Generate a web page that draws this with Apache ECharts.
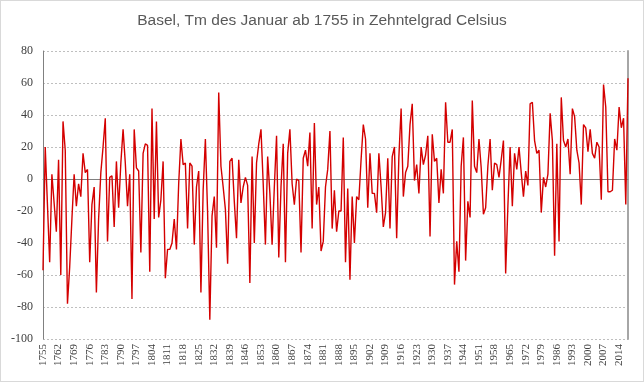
<!DOCTYPE html>
<html>
<head>
<meta charset="utf-8">
<script src="https://cdn.jsdelivr.net/npm/echarts@6/dist/echarts.min.js"></script>
<style>
html,body{margin:0;padding:0;background:#fff;}
#c{width:644px;height:382px;box-sizing:border-box;border:1px solid #d9d9d9;}
</style>
</head>
<body>
<div id="c"></div>
<script>
const title = 'Basel, Tm des Januar ab 1755 in Zehntelgrad Celsius';
const firstYear = 1755;
const lastYear = 2018;
const yTicks = {min: -100, max: 80, step: 20};
// January mean temperature, tenths of a degree Celsius, 1755..2018
const values = [
 -57, 20, -16, -52, 3, -15, -33, 12, -60, 36,
 18, -78, -55, -25, 3, -17, -3, -11, 16, 4,
 6, -52, -16, -5, -71, -25, 4, 20, 38, -39,
 1, 2, -30, 11, -18, 10, 31, 10, -17, 3,
 -75, 31, 7, 5, -46, 16, 22, 21, -58, 44,
 -25, 36, -24, -13, 11, -62, -44, -44, -40, -25,
 -44, -3, 25, 9, 10, -31, 10, 8, -41, -5,
 5, -71, -7, 25, -21, -88, -23, -11, -43, 54,
 8, -5, -19, -53, 11, 13, -14, -37, 12, -15,
 -5, 1, -4, -65, 14, -40, 10, 22, 31, -3,
 -41, 14, -9, -41, -5, 27, -49, -5, 22, -52,
 16, 31, -3, -16, 0, -1, -46, 13, 18, 8,
 29, -31, 35, -16, -5, -45, -39, -5, 6, 30,
 -31, -7, -33, -20, -20, 26, -52, -6, -63, -11,
 -40, -11, -13, 12, 34, 25, -18, 16, -9, -9,
 -21, 16, -5, -30, -21, 13, -31, 14, 20, -37,
 14, 44, -11, 4, 8, 34, 47, -1, 9, -9,
 20, 9, 15, 27, -36, 28, 11, 13, -15, 6,
 -9, 48, 23, 23, 31, -66, -39, -58, 8, 26,
 -51, -14, -24, 49, 8, 4, 25, 7, -22, -18,
 8, 25, -7, 10, 9, 1, 12, 24, -59, -17,
 20, -17, 16, 6, 20, 4, -11, 5, -4, 47,
 48, 24, 16, 18, -21, 1, -5, 3, 41, 24,
 -48, 22, -39, 51, 24, 20, 25, 3, 44, 39,
 18, 10, -16, 34, 32, 17, 31, 16, 13, 23,
 20, -13, 59, 45, -8, -8, -7, 25, 18, 45,
 32, 38, -16, 63
];
const years = [];
for (let y = firstYear; y <= lastYear; y++) years.push(String(y));

const chart = echarts.init(document.getElementById('c'), null, {renderer: 'canvas'});
chart.setOption({
  animation: false,
  backgroundColor: '#fff',
  title: {
    text: title, left: 'center', top: 7,
    textStyle: {fontFamily: 'Liberation Sans', fontSize: 15.5, fontWeight: 'normal', color: '#595959'}
  },
  grid: {left: 42, right: 15, top: 50, bottom: 42, containLabel: false},
  xAxis: [{
    type: 'category', data: years, boundaryGap: false,
    axisLine: {show: false}, axisTick: {show: false},
    axisLabel: {interval: 6, rotate: 90, margin: 5, fontFamily: 'Liberation Serif', fontSize: 11, color: '#404040'},
    splitLine: {show: false}
  }, {
    type: 'category', data: years, boundaryGap: false, position: 'top',
    axisLine: {show: true, lineStyle: {color: '#808080', width: 1}},
    axisTick: {show: false}, axisLabel: {show: false}, splitLine: {show: false}
  }],
  yAxis: [{
    type: 'value', min: yTicks.min, max: yTicks.max, interval: yTicks.step,
    axisLine: {show: true, lineStyle: {color: '#808080', width: 1}},
    axisTick: {show: false},
    axisLabel: {margin: 10, fontFamily: 'Liberation Serif', fontSize: 12, color: '#404040'},
    splitLine: {show: true, lineStyle: {color: '#bfbfbf', type: [2, 2], width: 1}}
  }, {
    type: 'value', min: yTicks.min, max: yTicks.max, interval: yTicks.step, position: 'right',
    axisLine: {show: true, lineStyle: {color: '#a6a6a6', width: 2}},
    axisTick: {show: false}, axisLabel: {show: false}, splitLine: {show: false}
  }],
  series: [{
    type: 'line', data: values, xAxisIndex: 0, yAxisIndex: 0,
    symbol: 'none', smooth: false,
    lineStyle: {color: '#d40000', width: 1.4},
    itemStyle: {color: '#d40000'}
  }]
});
</script>
</body>
</html>
